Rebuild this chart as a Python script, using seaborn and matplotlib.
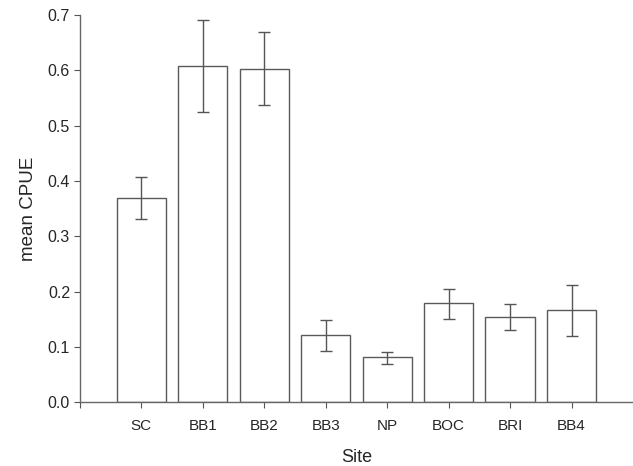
import matplotlib
matplotlib.use("Agg")
import matplotlib.pyplot as plt
import seaborn as sns
import numpy as np
import pandas as pd

sites = ["SC", "BB1", "BB2", "BB3", "NP", "BOC", "BRI", "BB4"]
mean_cpue = [0.369, 0.607, 0.602, 0.121, 0.081, 0.179, 0.154, 0.166]
err_low = [0.331, 0.524, 0.537, 0.092, 0.069, 0.150, 0.130, 0.119]
err_high = [0.407, 0.690, 0.669, 0.148, 0.090, 0.204, 0.177, 0.211]
yticks = [0.0, 0.1, 0.2, 0.3, 0.4, 0.5, 0.6, 0.7]

sns.set_style("white")
plt.rcParams["font.family"] = ["Liberation Sans", "DejaVu Sans"]

df = pd.DataFrame({"Site": sites, "mean": mean_cpue})

fig = plt.figure(figsize=(6.33, 4.66), dpi=100)
ax = fig.add_axes([0.126, 0.137, 0.874, 0.831])

edge = "#5a5a5a"
sns.barplot(data=df, x="Site", y="mean", order=sites, color="white",
            edgecolor=edge, linewidth=1.0, width=0.8, errorbar=None, ax=ax)

pos = np.arange(len(sites))
m = np.array(mean_cpue)
yerr = np.vstack([m - np.array(err_low), np.array(err_high) - m])
ax.errorbar(pos, m, yerr=yerr, fmt="none", ecolor="#555555",
            elinewidth=1.0, capsize=4, capthick=1.0)

ax.set_xlim(-1, 8)
ax.set_ylim(0, 0.7)
ax.set_yticks(yticks)
ax.set_yticklabels([f"{v:.1f}" for v in yticks], fontsize=11.5)
ax.set_xticks(np.arange(-1, len(sites)))
ax.set_xticklabels([""] + sites, fontsize=11)
ax.tick_params(axis="both", direction="out", length=4, width=0.8,
               color="#555555", bottom=True, left=True)
ax.tick_params(axis="x", pad=8)
ax.tick_params(axis="y", pad=3)

for s in ["top", "right"]:
    ax.spines[s].set_visible(False)
for s in ["left", "bottom"]:
    ax.spines[s].set_color("#666666")
    ax.spines[s].set_linewidth(1.0)

ax.set_xlabel("Site", fontsize=13, labelpad=12)
ax.set_ylabel("mean CPUE", fontsize=13.5, labelpad=8)

fig.savefig("out.png", dpi=100)
